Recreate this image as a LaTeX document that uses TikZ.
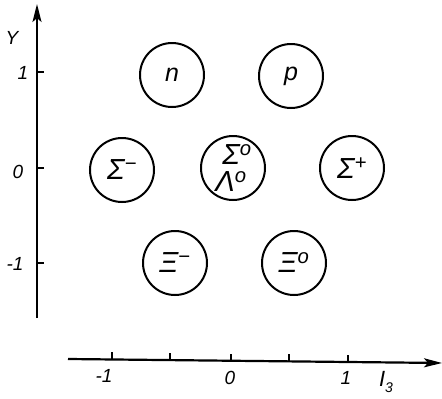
\documentclass[tikz,border=0pt]{standalone}
\usepackage{fontspec}
\setmainfont{Liberation Sans}
\usetikzlibrary{arrows.meta}
\begin{document}
\begin{tikzpicture}[x=1pt,y=-1pt,
  particle/.style={draw,circle,line width=2pt,minimum size=64pt,inner sep=0pt,font=\fontsize{25}{27}\selectfont\itshape},
  greek/.style={font=\fontsize{29}{31}\selectfont\itshape},
  axis/.style={line width=2.2pt,-{Stealth[length=18pt,width=9pt,inset=4pt]}},
  tick/.style={line width=1.8pt},
  ticklabel/.style={font=\fontsize{19}{21}\selectfont\itshape,inner sep=0pt}]
\useasboundingbox (0,0) rectangle (442,399);
% axes
\coordinate (yb) at (37,318);
\coordinate (yt) at (37,4);
\draw[axis] (yb) -- (yt);
\coordinate (xl) at (68,359);
\coordinate (xr) at (442,363);
\draw[axis] (xl) -- (xr);
% y ticks
\coordinate (ty1) at (37,72);   \coordinate (ty1e) at (44,72);
\coordinate (ty0) at (37,168);  \coordinate (ty0e) at (44,168);
\coordinate (tym) at (37,263);  \coordinate (tyme) at (44,263);
\draw[tick] (ty1) -- (ty1e);
\draw[tick] (ty0) -- (ty0e);
\draw[tick] (tym) -- (tyme);
\node[ticklabel] (y1) at (23,73) {1};
\node[ticklabel] (y0) at (18,172) {0};
\node[ticklabel] (ym1) at (15,264) {-1};
\node[ticklabel,font=\fontsize{19}{21}\selectfont\itshape] (ylab) at (12,38) {Y};
% x ticks
\coordinate (tx1) at (112,359.5); \coordinate (tx1e) at (112,352);
\coordinate (tx2) at (170,360);   \coordinate (tx2e) at (170,353);
\coordinate (tx3) at (231,361);   \coordinate (tx3e) at (231,354);
\coordinate (tx4) at (289,361.5); \coordinate (tx4e) at (289,354);
\coordinate (tx5) at (348,362);   \coordinate (tx5e) at (348,355);
\draw[tick] (tx1) -- (tx1e);
\draw[tick] (tx2) -- (tx2e);
\draw[tick] (tx3) -- (tx3e);
\draw[tick] (tx4) -- (tx4e);
\draw[tick] (tx5) -- (tx5e);
\node[ticklabel] (xm1) at (104,376) {-1};
\node[ticklabel] (x0) at (230,378) {0};
\node[ticklabel] (x1) at (346,378) {1};
\node[ticklabel,font=\fontsize{22}{24}\selectfont\itshape] (xlab) at (386,382) {I\raisebox{-6pt}{\fontsize{14}{15}\selectfont 3}};
% particles
\node[particle] (n) at (172,75) {n};
\node[particle] (p) at (291,76) {p};
\node[particle,greek] (sm) at (122,170) {Σ\textsuperscript{−}};
\node[particle] (s0) at (233,168) {};
\node[greek,inner sep=0pt] (s0a) at (237,155) {Σ\textsuperscript{o}};
\node[greek,inner sep=0pt] (l0) at (231,182) {Λ\textsuperscript{o}};
\node[particle,greek] (sp) at (352,168) {Σ\textsuperscript{+}};
\node[particle,greek] (xm) at (175,263) {Ξ\textsuperscript{−}};
\node[particle,greek] (x0p) at (294,263) {Ξ\textsuperscript{o}};
\end{tikzpicture}
\end{document}
